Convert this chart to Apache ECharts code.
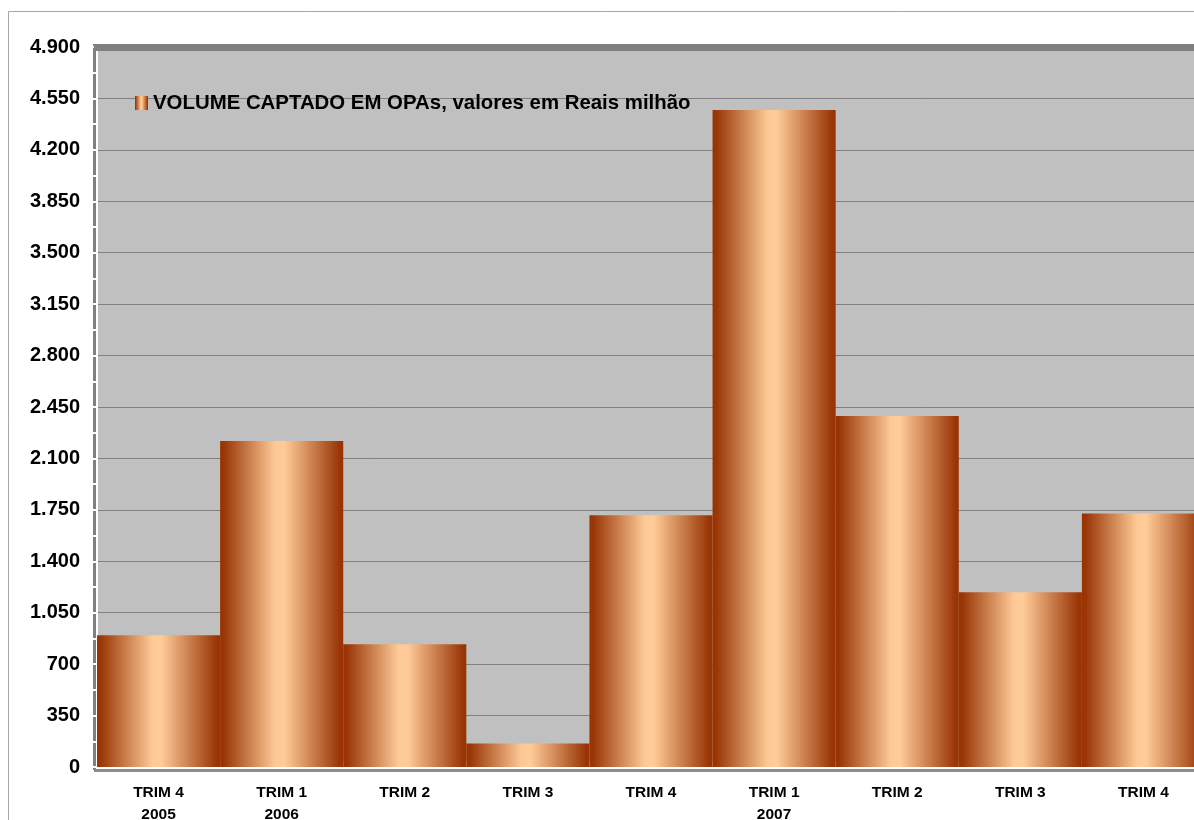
<!DOCTYPE html>
<html>
<head>
<meta charset="utf-8">
<script src="https://cdn.jsdelivr.net/npm/echarts@6/dist/echarts.min.js"></script>
<style>
html,body{margin:0;padding:0;background:#fff;}
#c{width:1194px;height:820px;}
</style>
</head>
<body>
<div id="c"></div>
<script>
var categories = ['TRIM 4\n2005','TRIM 1\n2006','TRIM 2','TRIM 3','TRIM 4','TRIM 1\n2007','TRIM 2','TRIM 3','TRIM 4'];
var values = [897, 2218, 835, 160, 1714, 4472, 2388, 1190, 1725];
var seriesName = 'VOLUME CAPTADO EM OPAs, valores em Reais milhão';

var FONT = '"Liberation Sans", Arial, sans-serif';
var grad = new echarts.graphic.LinearGradient(0,0,1,0,[
  {offset:0, color:'#993300'},
  {offset:0.03, color:'#9a3606'},
  {offset:0.45, color:'#fdca97'},
  {offset:0.52, color:'#ffcc99'},
  {offset:0.97, color:'#9a3606'},
  {offset:1, color:'#993300'}
]);

var chart = echarts.init(document.getElementById('c'), null, {renderer:'canvas'});
chart.setOption({
  backgroundColor:'#ffffff',
  animation:false,
  grid:{left:97, top:47, width:1108, height:720, show:true, backgroundColor:'#c0c0c0', borderWidth:0,
        outerBoundsMode:'none', containLabel:false},
  legend:{
    show:true, left:135, top:93, itemWidth:13, itemHeight:14, itemGap:5,
    icon:'rect', padding:0,
    textStyle:{fontFamily:FONT, fontWeight:'bold', fontSize:20.4, color:'#000', padding:[0,0,0,0]},
    data:[seriesName]
  },
  xAxis:{
    type:'category', data:categories,
    axisLine:{show:true, lineStyle:{color:'#ffffff', width:2}},
    axisTick:{show:true, inside:true, length:6, lineStyle:{color:'#ffffff', width:2}},
    axisLabel:{fontFamily:FONT, fontWeight:'bold', fontSize:15.5, color:'#000', lineHeight:22, margin:15, interval:0},
    splitLine:{show:false}
  },
  yAxis:{
    type:'value', min:0, max:4900, interval:350,
    axisLine:{show:true, lineStyle:{color:'#ffffff', width:2}},
    axisTick:{show:true, length:6, lineStyle:{color:'#ffffff', width:2}},
    minorTick:{show:true, splitNumber:2, length:4, lineStyle:{color:'#ffffff', width:2}},
    axisLabel:{fontFamily:FONT, fontWeight:'bold', fontSize:20, color:'#000', margin:17,
      formatter:function(v){return String(v).replace(/\B(?=(\d{3})+(?!\d))/g,'.');}},
    splitLine:{show:true, lineStyle:{color:'#808080', width:1}}
  },
  series:[{
    name:seriesName, type:'bar', data:values,
    barWidth:'100%', barCategoryGap:'0%',
    itemStyle:{color:grad},
    z:2
  }],
  graphic:[
    {type:'rect', shape:{x:8.5, y:11.5, width:1400, height:1000}, style:{fill:null, stroke:'#a6a6a6', lineWidth:1}, silent:true, z:-1},
    {type:'rect', shape:{x:94, y:44, width:1110, height:7}, style:{fill:'#808080'}, silent:true, z:1},
    {type:'rect', shape:{x:93, y:44, width:3, height:726}, style:{fill:'#808080'}, silent:true, z:0},
    {type:'rect', shape:{x:94, y:769, width:1110, height:3}, style:{fill:'#8c8c8c'}, silent:true, z:0}
  ]
});
</script>
</body>
</html>
